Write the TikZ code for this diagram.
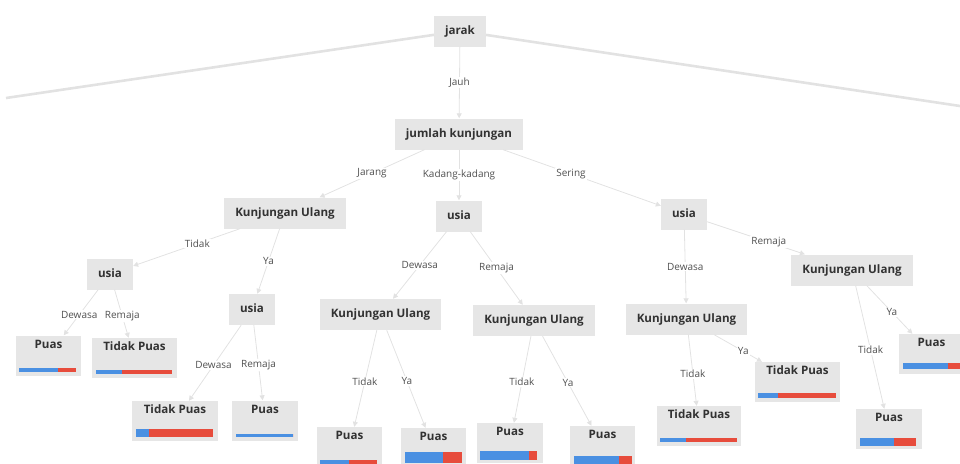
\documentclass[tikz,border=0pt]{standalone}
\usepackage{fontspec}
\setmainfont{Open Sans}
\usepackage{xcolor}
\usetikzlibrary{arrows.meta}
\definecolor{boxgray}{RGB}{230,230,230}
\definecolor{edgegray}{RGB}{226,226,226}
\definecolor{barblue}{RGB}{74,144,226}
\definecolor{barred}{RGB}{231,76,60}
\definecolor{txtgray}{RGB}{50,50,50}

\begin{document}
\begin{tikzpicture}[x=1pt, y=-1pt]
  \tikzset{
    box/.style={fill=boxgray, inner xsep=11pt, inner ysep=9.5pt, text height=9pt, text depth=3pt,
      font=\bfseries\fontsize{11.6}{14}\selectfont, text=txtgray},
    leaf/.style={fill=boxgray, inner xsep=0pt, inner ysep=3.5pt, text height=9pt, text depth=24pt,
      font=\bfseries\fontsize{11.6}{14}\selectfont, text=txtgray},
    edge/.style={draw=edgegray, line width=0.8pt, -{Triangle[width=5pt,length=5pt]}},
    trunk/.style={draw=edgegray, line width=2.6pt},
    lbl/.style={fill=white, inner sep=1pt, font=\fontsize{10}{12}\selectfont, text=txtgray!85}
  }
  \useasboundingbox (0,0) rectangle (960,463);
  \clip (0,0) rectangle (960,463);

  % inner nodes
  \node[box] (jarak)  at (460,31)    {jarak};
  \node[box] (jumlah) at (459,134)   {jumlah kunjungan};
  \node[box] (kuA)    at (285,213)   {Kunjungan Ulang};
  \node[box] (usiaB)  at (459,216)   {usia};
  \node[box] (usiaC)  at (684,214)   {usia};
  \node[box] (usiaA1) at (110,274)   {usia};
  \node[box] (usiaA2) at (252,309.5) {usia};
  \node[box] (kuB1)   at (380.5,314.5) {Kunjungan Ulang};
  \node[box] (kuB2)   at (534,320.5) {Kunjungan Ulang};
  \node[box] (kuC1)   at (686.5,319) {Kunjungan Ulang};
  \node[box] (kuC2)   at (852,270)   {Kunjungan Ulang};

  % leaves
  \node[leaf, minimum width=65pt] (pA1a) at (48.5,355.5) {Puas};
  \node[leaf, minimum width=85pt] (pA1b) at (134.5,358)  {Tidak Puas};
  \node[leaf, minimum width=86pt] (pA2a) at (175,421)    {Tidak Puas};
  \node[leaf, minimum width=66pt] (pA2b) at (265,420.5)  {Puas};
  \node[leaf, minimum width=65pt] (pB1a) at (349.5,447)  {Puas};
  \node[leaf, minimum width=65pt] (pB1b) at (433.5,448)  {Puas};
  \node[leaf, minimum width=66pt] (pB2a) at (510,443)    {Puas};
  \node[leaf, minimum width=65pt] (pB2b) at (602.5,446)  {Puas};
  \node[leaf, minimum width=84pt] (pC1a) at (699,426)    {Tidak Puas};
  \node[leaf, minimum width=85pt] (pC1b) at (797.5,382)  {Tidak Puas};
  \node[leaf, minimum width=66pt] (pC2a) at (889,429)    {Puas};
  \node[leaf, minimum width=65pt] (pC2b) at (931.5,354)  {Puas};

  % class bars: blue start / split / end / top / bottom
  \foreach \xa/\xb/\xc/\ya/\yb in {19/58/76/368/372, 96/122/172/370/374, 136/149/213/429/437,
      236/293/293/434/437, 320/349/377/460/466, 405/443/462/452/463, 480/529/537/451/460,
      574/619/632/456/465, 660/686/737/438/442, 758/778/836/393/398, 860/894/916/438/446,
      903/948/970/363/369} {
    \fill[barblue] (\xa,\ya) rectangle (\xb,\yb);
    \fill[barred] (\xb,\ya) rectangle (\xc,\yb);
  }

  % branches cut off at the picture edge
  \coordinate (offL) at (6,98);
  \coordinate (offR) at (960,106);
  \draw[trunk] (jarak) -- (offL);
  \draw[trunk] (jarak) -- (offR);

  % edges
  \foreach \a/\b/\t/\p in {jarak/jumlah/Jauh/0.5, jumlah/kuA/Jarang/0.5, jumlah/usiaB/Kadang-kadang/0.5,
      jumlah/usiaC/Sering/0.43, kuA/usiaA1/Tidak/0.4, kuA/usiaA2/Ya/0.5,
      usiaA1/pA1a/Dewasa/0.55, usiaA1/pA1b/Remaja/0.55, usiaA2/pA2a/Dewasa/0.53, usiaA2/pA2b/Remaja/0.53,
      usiaB/kuB1/Dewasa/0.5, usiaB/kuB2/Remaja/0.5, kuB1/pB1a/Tidak/0.53, kuB1/pB1b/Ya/0.52,
      kuB2/pB2a/Tidak/0.53, kuB2/pB2b/Ya/0.52, usiaC/kuC1/Dewasa/0.5, usiaC/kuC2/Remaja/0.63,
      kuC1/pC1a/Tidak/0.55, kuC1/pC1b/Ya/0.61, kuC2/pC2a/Tidak/0.52, kuC2/pC2b/Ya/0.55} {
    \draw[edge] (\a) -- (\b) node[lbl, pos=\p] {\t};
  }
\end{tikzpicture}
\end{document}
